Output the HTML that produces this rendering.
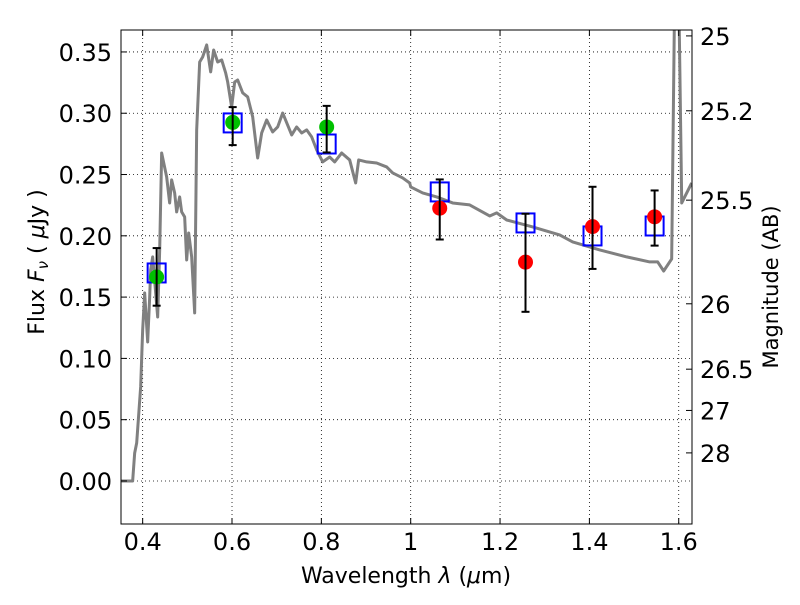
<!DOCTYPE html>
<html><head><meta charset="utf-8"><style>
body{margin:0;background:#fff}
text{font-family:"DejaVu Sans","Liberation Sans",sans-serif;fill:#000}
</style></head><body>
<svg id="chart" width="800" height="600" xmlns="http://www.w3.org/2000/svg"></svg>
<script>
const specWl=[0.3485,0.3776,0.3821,0.3866,0.3955,0.4,0.4045,0.4112,0.4157,0.4179,0.4224,0.4336,0.4381,0.4425,0.4537,0.4604,0.4649,0.4716,0.4761,0.4828,0.4873,0.494,0.4985,0.503,0.5097,0.5164,0.5209,0.5276,0.5343,0.5433,0.5522,0.5589,0.5679,0.5769,0.5858,0.5903,0.5992,0.606,0.6127,0.6239,0.6351,0.6463,0.6574,0.6664,0.6776,0.691,0.7022,0.7134,0.7336,0.7447,0.7559,0.7671,0.7783,0.7895,0.803,0.8186,0.8298,0.8455,0.8634,0.8768,0.8835,0.9015,0.9238,0.9462,0.9597,0.9821,0.9977,1.0,1.0268,1.0582,1.094,1.132,1.1768,1.1925,1.2149,1.2731,1.3335,1.3626,1.4231,1.4835,1.535,1.5529,1.5663,1.5842,1.591,1.6,1.6067,1.629];
const specFlux=[0,0,0.0228,0.031,0.0767,0.1232,0.1534,0.1134,0.1501,0.1721,0.1828,0.1338,0.1885,0.2676,0.248,0.2268,0.2456,0.235,0.2195,0.2317,0.2195,0.2154,0.1803,0.2023,0.1828,0.1371,0.2864,0.3418,0.3459,0.3557,0.3337,0.3516,0.3418,0.3435,0.3329,0.3255,0.3051,0.3255,0.3271,0.3166,0.3133,0.297,0.2635,0.2839,0.2945,0.2847,0.2888,0.3002,0.2823,0.2888,0.2839,0.2864,0.2807,0.2701,0.2603,0.2643,0.2603,0.2676,0.2619,0.2431,0.2619,0.2603,0.2594,0.2562,0.2513,0.2472,0.2431,0.2399,0.235,0.2317,0.2268,0.2252,0.2162,0.2187,0.2129,0.2072,0.2007,0.195,0.1885,0.1828,0.1787,0.1787,0.1713,0.1811,0.40,0.40,0.2268,0.2431];
const obsWl=[0.4313,0.6015,0.8119,1.065,1.257,1.407,1.546];
const obsFlux=[0.1664,0.2925,0.2888,0.2225,0.1785,0.2075,0.2155];
const obsColor=["#00c000","#00c000","#00c000","#ff0000","#ff0000","#ff0000","#ff0000"];
const errLo=[0.143,0.274,0.268,0.197,0.138,0.173,0.192];
const errHi=[0.190,0.305,0.306,0.246,0.218,0.240,0.237];
const modelFlux=[0.1697,0.2921,0.2749,0.2358,0.2105,0.1999,0.2080];
const xTicks=[0.4,0.6,0.8,1.0,1.2,1.4,1.6];
const xTickLabels=["0.4","0.6","0.8","1","1.2","1.4","1.6"];
const yTicks=[0,0.05,0.1,0.15,0.2,0.25,0.3,0.35];
const yTickLabels=["0.00","0.05","0.10","0.15","0.20","0.25","0.30","0.35"];
const magTicks=[25,25.2,25.5,26,26.5,27,28];
const magTickLabels=["25","25.2","25.5","26","26.5","27","28"];

const L=121,R=692,T=30,B=524;
const X0=0.3515,X1=1.6297,Y0=-0.0351,Y1=0.3679;
const sx=v=>L+(v-X0)/(X1-X0)*(R-L);
const sy=v=>B-(v-Y0)/(Y1-Y0)*(B-T);
const svg=document.getElementById('chart');
const NS="http://www.w3.org/2000/svg";
function mk(tag,attrs,parent){const e=document.createElementNS(NS,tag);for(const k in attrs)e.setAttribute(k,attrs[k]);(parent||svg).appendChild(e);return e;}

const clip=mk('clipPath',{id:'pc'});mk('rect',{x:L,y:T,width:R-L,height:B-T},clip);

const grid=mk('g',{});


xTicks.forEach(v=>{mk('line',{x1:sx(v),x2:sx(v),y1:T,y2:B,stroke:'#000','stroke-width':0.8,'stroke-dasharray':'1,3'},grid);});
yTicks.forEach(v=>{mk('line',{x1:L,x2:R,y1:sy(v),y2:sy(v),stroke:'#000','stroke-width':0.8,'stroke-dasharray':'1,3'},grid);});

const spec=mk('polyline',{points:specWl.map((w,i)=>sx(w)+','+sy(specFlux[i])).join(' '),fill:'none',stroke:'#808080','stroke-width':3,'clip-path':'url(#pc)','stroke-linejoin':'round'});



obsWl.forEach((w,i)=>{
  const x=sx(w);
  const sq=mk('rect',{x:x-9,y:sy(modelFlux[i])-9.5,width:18,height:19,fill:'none',stroke:'#0000ff','stroke-width':2});
  
  
  const c=mk('circle',{cx:x,cy:sy(obsFlux[i]),r:7.5,fill:obsColor[i]});
  
  
  const eb=mk('g',{stroke:'#000','stroke-width':2});
  
  
  mk('line',{x1:x,x2:x,y1:sy(errLo[i]),y2:sy(errHi[i])},eb);
  mk('line',{x1:x-4,x2:x+4,y1:sy(errLo[i]),y2:sy(errLo[i])},eb);
  mk('line',{x1:x-4,x2:x+4,y1:sy(errHi[i]),y2:sy(errHi[i])},eb);
});

const frame=mk('rect',{x:L,y:T,width:R-L,height:B-T,fill:'none',stroke:'#000','stroke-width':1});



xTicks.forEach((v,i)=>{
  mk('line',{x1:sx(v),x2:sx(v),y1:B,y2:B-6,stroke:'#000'});
  mk('line',{x1:sx(v),x2:sx(v),y1:T,y2:T+6,stroke:'#000'});
  const t=mk('text',{x:sx(v),y:B+26,'text-anchor':'middle','font-size':24});
  t.textContent=xTickLabels[i];
  
  
});
yTicks.forEach((v,i)=>{
  mk('line',{x1:L,x2:L+6,y1:sy(v),y2:sy(v),stroke:'#000'});
  const t=mk('text',{x:L-9,y:sy(v)+9,'text-anchor':'end','font-size':24});
  t.textContent=yTickLabels[i];
  
  
});
magTicks.forEach((m,i)=>{
  const y=sy(Math.pow(10,(23.9-m)/2.5));
  mk('line',{x1:R,x2:R-6,y1:y,y2:y,stroke:'#000'});
  const t=mk('text',{x:R+8,y:y+9,'text-anchor':'start','font-size':24});
  t.textContent=magTickLabels[i];
  
  
});

const xl=mk('text',{x:406,y:583,'text-anchor':'middle','font-size':22});
xl.innerHTML='Wavelength  <tspan font-style="italic">λ</tspan> (<tspan font-style="italic">μ</tspan>m)';


const yl=mk('text',{x:0,y:0,'text-anchor':'middle','font-size':22,transform:'translate(44,262) rotate(-90)'});
yl.innerHTML='Flux  <tspan font-style="italic">F</tspan><tspan font-style="italic" font-size="15" dy="4">ν</tspan><tspan dy="-4">  ( </tspan><tspan font-style="italic">μ</tspan>Jy )';


const rl=mk('text',{x:0,y:0,'text-anchor':'middle','font-size':21,transform:'translate(778,287) rotate(-90)'});
rl.textContent='Magnitude (AB)';


</script>
</body></html>
